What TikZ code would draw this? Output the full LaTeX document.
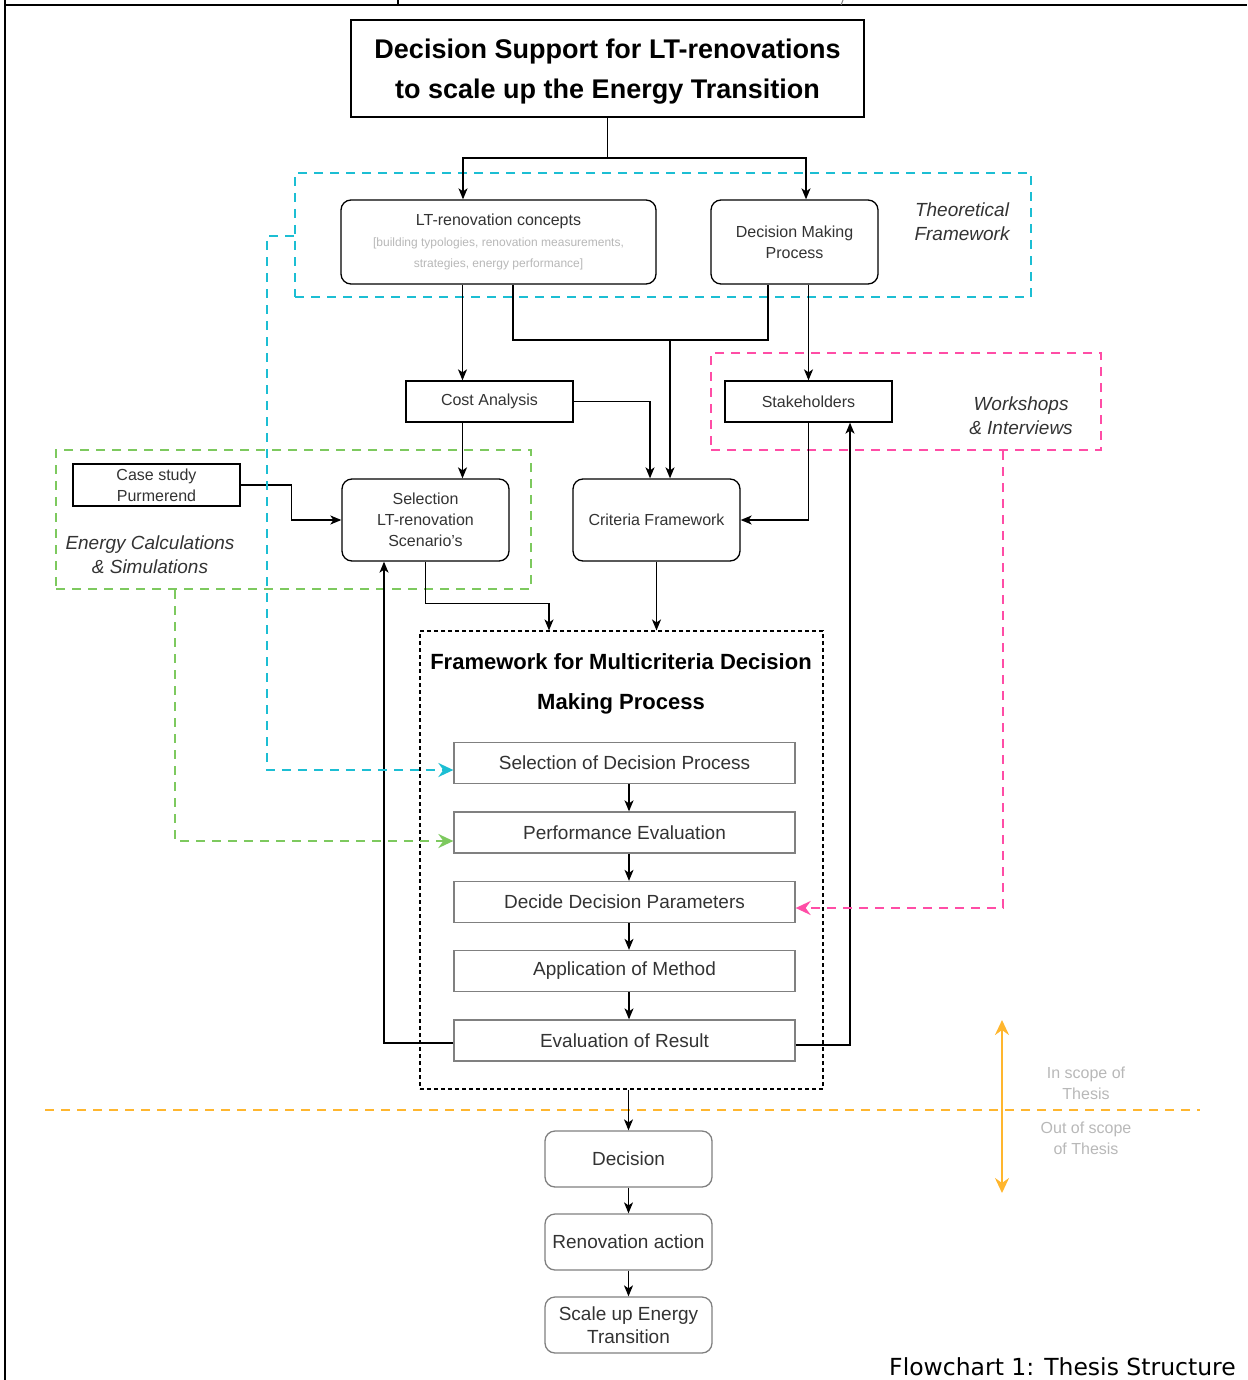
\documentclass[tikz,border=0pt]{standalone}
\usepackage{fontspec}
\setmainfont{Liberation Sans}
\newfontfamily\capfont{DejaVu Sans}
\usepackage{xcolor}
\usepackage{tikz}
\usetikzlibrary{shapes, arrows, arrows.meta, calc}
\definecolor{tfcyan}{HTML}{1CBED3}
\definecolor{wipink}{HTML}{FF4DA6}
\definecolor{ecgreen}{HTML}{7DC95E}
\definecolor{scopeorange}{HTML}{FFB62E}
\definecolor{txtgray}{HTML}{333333}
\definecolor{boxgray}{HTML}{808080}
\definecolor{notegray}{HTML}{B8B8B8}
\newcommand{\fsz}[2]{\fontsize{#1}{#2}\selectfont}
\tikzstyle{line} = [draw, -{Stealth[length=11pt, width=9pt, inset=3pt]}, line width=1.3pt]
\tikzstyle{block} = [draw, rectangle, fill=white, line width=1.3pt, text=txtgray, align=center, inner sep=0pt, minimum width=167pt, font=\fsz{16}{21}]
\tikzstyle{rblock} = [block, rounded corners=10pt]
\tikzstyle{stagebox} = [block, draw=boxgray, minimum width=341pt, minimum height=41pt, font=\fsz{19}{22}]
\tikzstyle{zone} = [draw, rectangle, dash pattern=on 9pt off 7pt, line width=2.4pt, inner sep=0pt]
\tikzstyle{zoneline} = [draw, -{Stealth[length=15pt, width=14pt, inset=5pt]}, dash pattern=on 9pt off 7pt, line width=2.4pt]
\tikzstyle{zonelabel} = [align=center, text=txtgray, font=\itshape\fsz{19}{24}]
\tikzstyle{scopelabel} = [align=center, text=notegray, font=\fsz{16}{21}]

\begin{document}
\begin{tikzpicture}[x=1pt, y=-1pt]
		\useasboundingbox (0,0) rectangle (1247,1380);
		% page frame
		\draw[line width=2.5pt] (5,0) -- (5,1380);
		\draw[line width=1.2pt] (5,5) -- (1247,5);
		\draw[line width=2.5pt] (5,5) -- (43,5);
		\draw[line width=2.5pt] (1200,5) -- (1247,5);
		\draw[line width=1.2pt] (398,0) -- (398,5);
		\draw[line width=1pt, gray] (843,0) -- (841,5);
		% zones
		\node[zone, draw=tfcyan, minimum width=736pt, minimum height=124pt] (tf) at (663,235) {};
		\node[zone, draw=wipink, minimum width=390pt, minimum height=97pt] (wi) at (906,401.5) {};
		\node[zone, draw=ecgreen, minimum width=475pt, minimum height=139pt] (ec) at (293.5,519.5) {};
		\node[draw, rectangle, dash pattern=on 4pt off 3pt, line width=1.1pt, minimum width=403pt, minimum height=458pt] (fw) at (621.5,860) {};
		\node[zonelabel] (tflabel) at (962,222) {Theoretical\\Framework};
		\node[zonelabel] (wilabel) at (1021,416) {Workshops\\\& Interviews};
		\node[zonelabel] (eclabel) at (150,555) {Energy Calculations\\\& Simulations};
		% blocks
		\node[block, minimum width=513pt, minimum height=97pt, text depth=0pt, text=black, font=\bfseries\fsz{27}{40}] (title) at (607.5,68.5) {Decision Support for LT-renovations\\to scale up the Energy Transition};
		\node[rblock, minimum width=315pt, minimum height=84pt] (lt) at (498.5,242) {LT-renovation concepts\\{\color{notegray}\fsz{12}{21}[building typologies, renovation measurements,}\\{\color{notegray}\fsz{12}{21}strategies, energy performance]}};
		\node[rblock, minimum height=84pt] (dmp) at (794.5,242) {Decision Making\\Process};
		\node[block, minimum height=41pt] (cost) at (489.5,401.5) {Cost Analysis};
		\node[block, minimum height=41pt] (stake) at (808.5,401.5) {Stakeholders};
		\node[block, minimum height=42pt] (case) at (156.5,485) {Case study\\Purmerend};
		\node[rblock, minimum height=82pt] (sel) at (425.5,520) {Selection\\LT-renovation\\Scenario's};
		\node[rblock, minimum height=82pt] (crit) at (656.5,520) {Criteria Framework};
		\node[align=center, font=\bfseries\fsz{22}{40}] (fwtitle) at (621,684) {Framework for Multicriteria Decision\\Making Process};
		\node[stagebox] (s1) at (624.5,763) {Selection of Decision Process};
		\node[stagebox] (s2) at (624.5,832.5) {Performance Evaluation};
		\node[stagebox] (s3) at (624.5,902) {Decide Decision Parameters};
		\node[stagebox] (s4) at (624.5,971) {Application of Method};
		\node[stagebox] (s5) at (624.5,1040.5) {Evaluation of Result};
		\node[rblock, draw=boxgray, minimum height=56pt, font=\fsz{19}{23}] (dec) at (628.5,1159) {Decision};
		\node[rblock, draw=boxgray, minimum height=56pt, font=\fsz{19}{23}] (reno) at (628.5,1242) {Renovation action};
		\node[rblock, draw=boxgray, minimum height=56pt, font=\fsz{19}{23}] (scale) at (628.5,1325) {Scale up Energy\\Transition};
		% scope
		\coordinate (scopeL) at (45,1110);
		\coordinate (scopeR) at (1200,1110);
		\coordinate (scopeT) at (1002,1020);
		\coordinate (scopeB) at (1002,1193);
		\draw[draw=scopeorange, dash pattern=on 9pt off 7pt, line width=2.4pt] (scopeL) -- (scopeR);
		\draw[draw=scopeorange, {Stealth[length=15pt, width=14pt, inset=5pt]}-{Stealth[length=15pt, width=14pt, inset=5pt]}, line width=2.4pt] (scopeT) -- (scopeB);
		\node[scopelabel] (inscope) at (1086,1083) {In scope of\\Thesis};
		\node[scopelabel] (outscope) at (1086,1138) {Out of scope\\of Thesis};
		\node[font=\capfont\fsz{23.5}{28}] (caption) at (1062.5,1367) {Flowchart 1: Thesis Structure};
		% connectors
		\coordinate (split) at (607.5,158);
		\coordinate (merge) at (670,340);
		\draw[line width=1.3pt] (title.south) -- (split);
		\draw[line] (split) -| ($(lt.north)+(-35.5,0)$);
		\draw[line] (split) -| ($(dmp.north)+(11.5,0)$);
		\draw[line] ($(lt.south)+(-36,0)$) -- ($(cost.north)+(-27,0)$);
		\draw[line width=1.3pt] ($(lt.south)+(14.5,0)$) |- (merge) -| ($(dmp.south)+(-26.5,0)$);
		\draw[line] (merge) -- ($(crit.north)+(13.5,0)$);
		\draw[line] ($(dmp.south)+(14,0)$) -- (stake.north);
		\draw[line] ($(cost.south)+(-27,0)$) -- ($(sel.north)+(37,0)$);
		\draw[line] (cost.east) -| ($(crit.north)+(-6.5,0)$);
		\draw[line] (stake.south) |- (crit.east);
		\draw[line] (case.east) -- ++(51,0) |- (sel.west);
		\draw[line] (sel.south) -- ++(0,42) -| ($(fw.north)+(-72.5,0)$);
		\draw[line] (crit.south) -- (crit.south |- fw.north);
		\draw[line] ($(s1.south)+(4.5,0)$) -- ($(s2.north)+(4.5,0)$);
		\draw[line] ($(s2.south)+(4.5,0)$) -- ($(s3.north)+(4.5,0)$);
		\draw[line] ($(s3.south)+(4.5,0)$) -- ($(s4.north)+(4.5,0)$);
		\draw[line] ($(s4.south)+(4.5,0)$) -- ($(s5.north)+(4.5,0)$);
		\draw[line] ($(s5.west)+(0,2.5)$) -| ($(sel.south)+(-41.5,0)$);
		\draw[line] ($(s5.east)+(0,4.5)$) -| ($(stake.south)+(41.5,0)$);
		\draw[line] ($(fw.south)+(7,0)$) -- (dec.north);
		\draw[line] (dec.south) -- (reno.north);
		\draw[line] (reno.south) -- (scale.north);
		\draw[zoneline, draw=tfcyan] ($(tf.west)+(0,1)$) -- ++(-27,0) |- ($(s1.west)+(0,7)$);
		\draw[zoneline, draw=ecgreen] ($(ec.south)+(-118.5,0)$) |- ($(s2.west)+(0,8.5)$);
		\draw[zoneline, draw=wipink] ($(wi.south)+(97,0)$) |- ($(s3.east)+(0,6)$);
	\end{tikzpicture}
\end{document}
